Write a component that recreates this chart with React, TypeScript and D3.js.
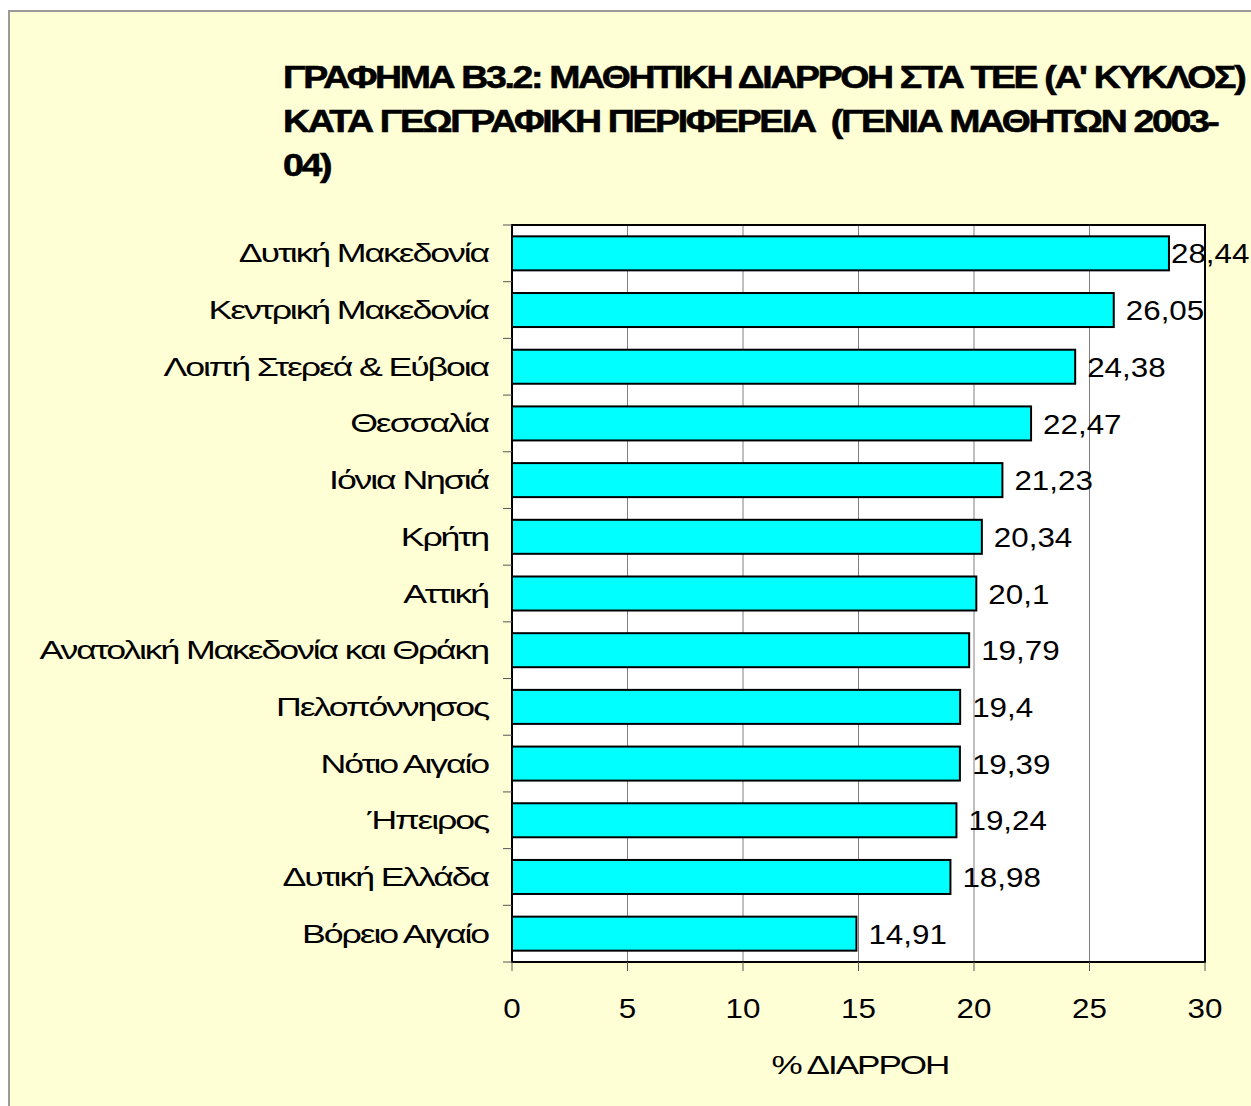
import React from "react";
import * as d3 from "d3";

const regions = [
  "Δυτική Μακεδονία",
  "Κεντρική Μακεδονία",
  "Λοιπή Στερεά & Εύβοια",
  "Θεσσαλία",
  "Ιόνια Νησιά",
  "Κρήτη",
  "Αττική",
  "Ανατολική Μακεδονία και Θράκη",
  "Πελοπόννησος",
  "Νότιο Αιγαίο",
  "Ήπειρος",
  "Δυτική Ελλάδα",
  "Βόρειο Αιγαίο",
];
const dropout = [28.44, 26.05, 24.38, 22.47, 21.23, 20.34, 20.1, 19.79, 19.4, 19.39, 19.24, 18.98, 14.91];
const xTicks = [0, 5, 10, 15, 20, 25, 30];
const titleLines = [
  "ΓΡΑΦΗΜΑ Β3.2: ΜΑΘΗΤΙΚΗ ΔΙΑΡΡΟΗ ΣΤΑ ΤΕΕ (Α' ΚΥΚΛΟΣ)",
  "ΚΑΤΑ ΓΕΩΓΡΑΦΙΚΗ ΠΕΡΙΦΕΡΕΙΑ  (ΓΕΝΙΑ ΜΑΘΗΤΩΝ 2003-",
  "04)",
];
const xTitle = "% ΔΙΑΡΡΟΗ";

const W = 1251;
const H = 1106;
const plot = { left: 512, right: 1205, top: 225, bottom: 962 };
const font = "'Liberation Sans', Arial, sans-serif";
// the chart's lettering is a horizontally widened sans
const stretch = 1.12;

function WideText({
  x,
  y,
  s = stretch,
  children,
  ...rest
}: { x: number; y: number; s?: number; children: React.ReactNode } & React.SVGProps<SVGTextElement>) {
  return (
    <text
      transform={`translate(${x},${y}) scale(${s},1)`}
      fill="#000"
      style={{ whiteSpace: "pre" }}
      {...rest}
    >
      {children}
    </text>
  );
}

export default function App() {
  const x = d3.scaleLinear().domain([0, 30]).range([plot.left, plot.right]);
  const y = d3
    .scaleBand<string>()
    .domain(regions)
    .range([plot.top, plot.bottom])
    .paddingInner(0.4)
    .paddingOuter(0.2);
  const step = y.step();
  const fmt = (v: number) => String(v).replace(".", ",");
  const labelW = 80;

  return (
    <svg
      width={W}
      height={H}
      style={{ position: "absolute", left: 0, top: 0, display: "block" }}
      fontFamily={font}
    >
      <rect x={0} y={0} width={W} height={H} fill="#ffffff" />
      <rect x={9} y={11} width={W + 10} height={H + 10} fill="#ffffd6" stroke="#9a9a9a" strokeWidth={2} />

      {titleLines.map((t, i) => (
        <WideText
          key={i}
          x={283}
          y={88 + i * 44}
          s={1.17}
          fontSize={32}
          fontWeight="bold"
          letterSpacing={-2}
          stroke="#000"
          strokeWidth={0.6}
        >
          {t}
        </WideText>
      ))}

      {/* plot area */}
      <rect x={plot.left} y={plot.top} width={plot.right - plot.left} height={plot.bottom - plot.top} fill="#ffffff" />
      {xTicks.slice(1, -1).map((t) => (
        <line key={t} x1={x(t)} x2={x(t)} y1={plot.top} y2={plot.bottom} stroke="#808080" strokeWidth={1} />
      ))}

      {regions.map((r, i) => (
        <rect
          key={r}
          x={x(0)}
          y={y(r)!}
          width={x(dropout[i]) - x(0)}
          height={y.bandwidth()}
          fill="#00ffff"
          stroke="#000"
          strokeWidth={2}
        />
      ))}

      <rect
        x={plot.left}
        y={plot.top}
        width={plot.right - plot.left}
        height={plot.bottom - plot.top}
        fill="none"
        stroke="#000"
        strokeWidth={2}
      />

      {/* category ticks and labels */}
      {d3.range(regions.length + 1).map((i) => (
        <line
          key={i}
          x1={plot.left - 9}
          x2={plot.left}
          y1={plot.top + i * step}
          y2={plot.top + i * step}
          stroke="#555"
          strokeWidth={1}
        />
      ))}
      {regions.map((r) => (
        <WideText
          key={r}
          x={plot.left - 24}
          y={y(r)! + y.bandwidth() / 2}
          dy="0.36em"
          textAnchor="end"
          s={1.43}
          fontSize={25}
          letterSpacing={-1.5}
        >
          {r}
        </WideText>
      ))}

      {/* value labels */}
      {regions.map((r, i) => (
        <WideText
          key={r}
          x={Math.min(x(dropout[i]) + 12, W - labelW)}
          y={y(r)! + y.bandwidth() / 2}
          dy="0.36em"
          fontSize={28}
        >
          {fmt(dropout[i])}
        </WideText>
      ))}

      {/* value axis */}
      {xTicks.map((t) => (
        <g key={t}>
          <line x1={x(t)} x2={x(t)} y1={plot.bottom} y2={plot.bottom + 9} stroke="#555" strokeWidth={1} />
          <WideText x={x(t)} y={1018} textAnchor="middle" fontSize={28}>
            {t}
          </WideText>
        </g>
      ))}
      <WideText x={860} y={1074} textAnchor="middle" fontSize={26} s={1.35} letterSpacing={-1.5}>
        {xTitle}
      </WideText>
    </svg>
  );
}
